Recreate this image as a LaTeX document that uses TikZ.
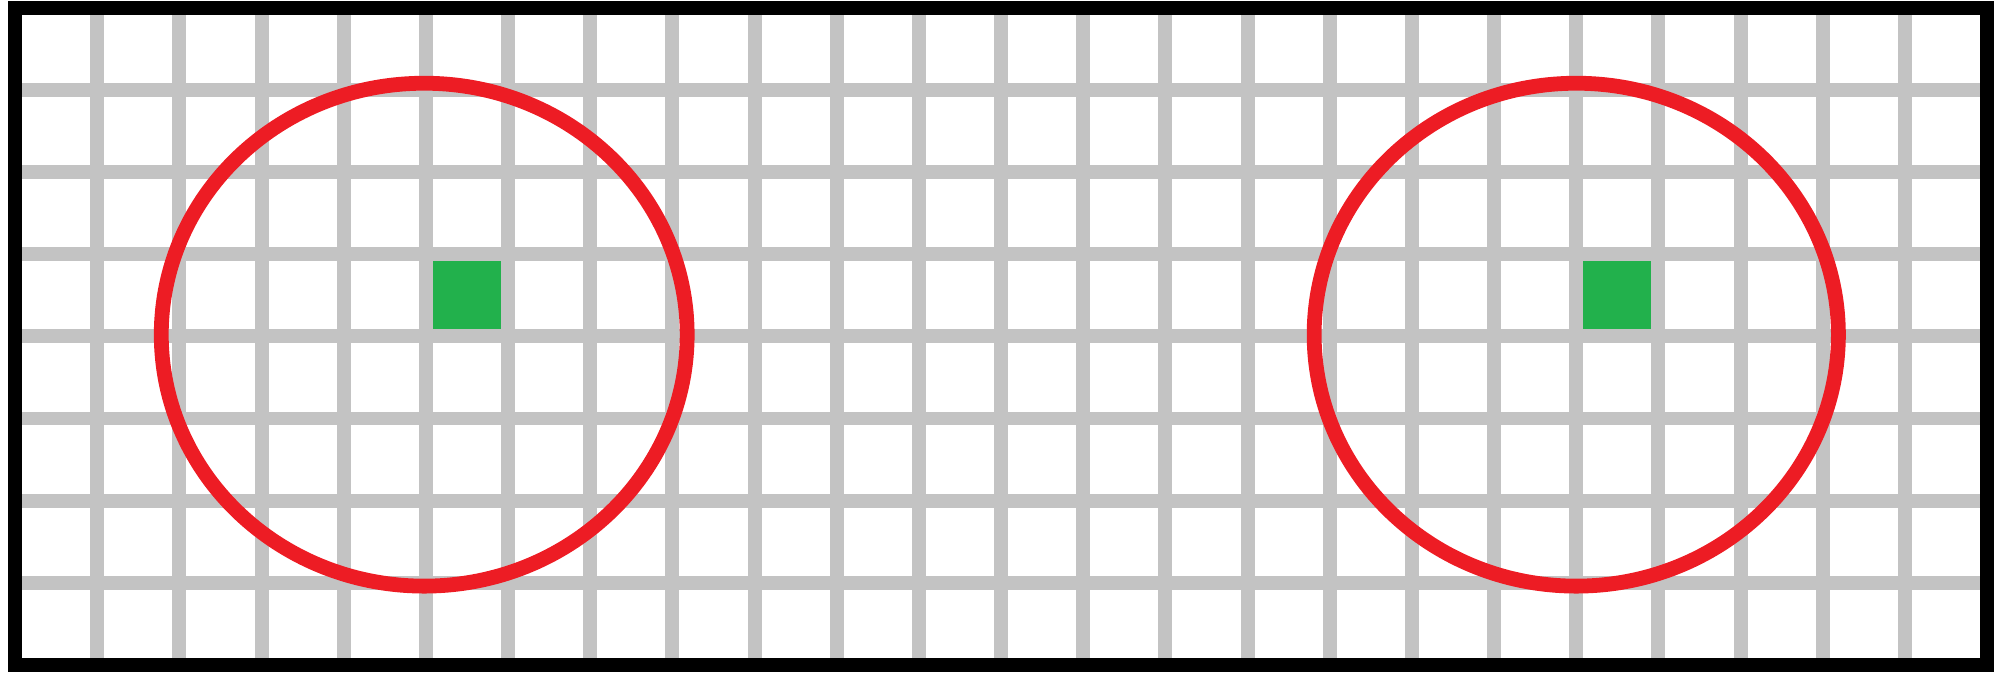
\documentclass[tikz,border=0pt]{standalone}
\usepackage{tikz}
\definecolor{gridgray}{RGB}{195,195,195}
\definecolor{ringred}{RGB}{237,28,36}
\definecolor{cellgreen}{RGB}{34,177,76}

\begin{document}
\begin{tikzpicture}[x={(1cm,0cm)}, y={(0cm,1cm)},
  gridline/.style={draw=gridgray, line width=0.17cm},
  ring/.style={draw=ringred, line width=0.18cm},
  cell/.style={draw=none, fill=cellgreen, minimum size=0.83cm, inner sep=0pt}]
  \useasboundingbox (-0.1826,-0.0852) rectangle (24.096,8.093);
  % Grid
  \foreach \i in {1,...,23} \draw[gridline] (\i,0) -- (\i,8);
  \foreach \j in {1,...,7} \draw[gridline] (0,\j) -- (24,\j);
  % Nodes
  \node[cell] (CellLeft) at (5.5,4.5) {};
  \node[cell] (CellRight) at (19.5,4.5) {};
  % Rings
  \draw[ring] (4.98,4.02) ellipse [x radius=3.2, y radius=3.06];
  \draw[ring] (19,4.02) ellipse [x radius=3.19, y radius=3.06];
  % Frame
  \draw[line width=0.17cm] (0,0) rectangle (24,8);
\end{tikzpicture}
\end{document}
